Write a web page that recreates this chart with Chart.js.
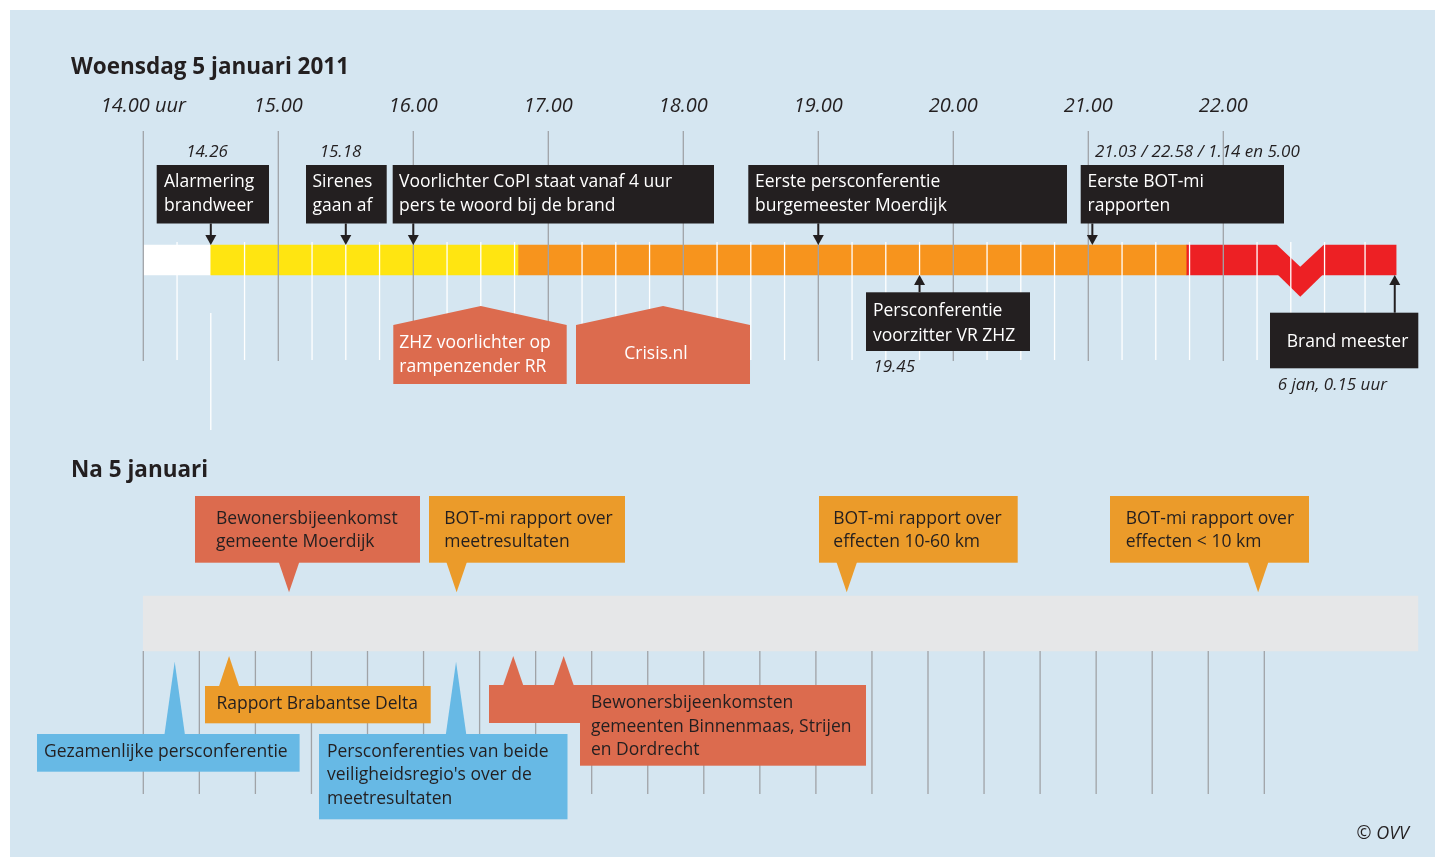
<!DOCTYPE html>
<html lang="nl"><head><meta charset="utf-8"><title>Tijdlijn Moerdijk</title>
<script src="https://cdn.jsdelivr.net/npm/chart.js@4.4.1/dist/chart.umd.min.js"></script>
<style>html,body{margin:0;padding:0;background:#fff;overflow:hidden}canvas{display:block}</style>
</head><body>
<canvas id="c" width="1435" height="857" style="width:1435px;height:857px"></canvas>
<script>
// ================= DATA =================
// Woensdag 5 januari 2011 (decimal hours)
const hourTicks   = [14, 15, 16, 17, 18, 19, 20, 21, 22];
const hourLabels  = ['14.00 uur', '15.00', '16.00', '17.00', '18.00', '19.00', '20.00', '21.00', '22.00'];
const quarterTicks = [14.25, 14.75, 15.25, 15.5, 15.75, 16.25, 16.5, 16.75, 17.25, 17.5, 17.75,
                      18.25, 18.5, 18.75, 19.25, 19.5, 19.75, 20.25, 20.5, 20.75, 21.25, 21.5, 21.75,
                      22.25, 22.5, 22.75, 23.05];
const phaseStart  = [14.0, 14.5, 16.78, 21.73];
const phaseEnd    = [14.5, 16.78, 21.73, 23.28];
const breakTime   = 22.57;           // onderbreking (nacht) in de balk
const connectorTime = 14.5;

const topAboveTimes  = [14.5, 15.5, 16.0, 19.0, 21.03];
const topAboveLabels = [['Alarmering', 'brandweer'], ['Sirenes', 'gaan af'],
                        ['Voorlichter CoPI staat vanaf 4 uur', 'pers te woord bij de brand'],
                        ['Eerste persconferentie', 'burgemeester Moerdijk'], ['Eerste BOT-mi', 'rapporten']];
const topAboveTimeTexts = ['14.26', '15.18', '', '', '21.03 / 22.58 / 1.14 en 5.00'];

const topBelowTimes  = [19.75, 23.27];
const topBelowLabels = [['Persconferentie', 'voorzitter VR ZHZ'], ['Brand meester']];
const topBelowTimeTexts = ['19.45', '6 jan, 0.15 uur'];

const mediaTimes  = [16.5, 17.85];
const mediaLabels = [['ZHZ voorlichter op', 'rampenzender RR'], ['Crisis.nl']];

// Na 5 januari (days)
const dayValues = [6, 7, 8, 9, 10, 11, 12, 13, 14, 15, 16, 17, 18, 19, 20, 21, 22, 23, 24, 25];
const dayLabels = ['6 jan', '7', '8', '9', '10', '11', '12', '13', '14', '15', '16', '17', '18', '19', '20', '21', '22', '23', '24', '25'];
const dayLines  = [6, 7, 8, 9, 10, 11, 12, 13, 14, 15, 16, 17, 18, 19, 20, 21, 22, 23, 24, 25, 26];
const bandRange = [6, 28.74];

const afterAboveDays   = [8.6, 11.59, 18.55, 25.89];
const afterAboveLabels = [['Bewonersbijeenkomst', 'gemeente Moerdijk'], ['BOT-mi rapport over', 'meetresultaten'],
                          ['BOT-mi rapport over', 'effecten 10-60 km'], ['BOT-mi rapport over', 'effecten < 10 km']];
const afterBelowDays   = [[6.56], [7.53], [11.58], [12.6, 13.5]];
const afterBelowLabels = [['Gezamenlijke persconferentie'], ['Rapport Brabantse Delta'],
                          ['Persconferenties van beide', "veiligheidsregio's over de", 'meetresultaten'],
                          ['Bewonersbijeenkomsten', 'gemeenten Binnenmaas, Strijen', 'en Dordrecht']];

// ================= STYLE / LAYOUT =================
const FONT = '"Open Sans", "Noto Sans", sans-serif';
const C = { panel: '#d5e6f1', white: '#ffffff', yellow: '#ffe511', orange: '#f7941d', red: '#ed2024',
            black: '#231f20', grid: '#a0a3a7', band: '#e6e7e8', media: '#dc6b4e',
            cOrange: '#eb9b2a', blue: '#67b9e5' };
const phaseColors = [C.white, C.yellow, C.orange, C.red];
const BAR = { y: 260, h: 30 };
const BAND = { y: 623.5, h: 55 };
const TXT = 17.5;

const topAboveBoxes = [
  { x0: 156.7, x1: 269, tx: 164 }, { x0: 306, x1: 386.7, tx: 312.5 }, { x0: 392.7, x1: 714, tx: 399 },
  { x0: 748.3, x1: 1067, tx: 755 }, { x0: 1080.7, x1: 1284, tx: 1087.5 }];
const topAboveTimePos = [{ x: 207, a: 'center' }, { x: 340.5, a: 'center' }, null, null, { x: 1095, a: 'left' }];
const topBelowBoxes = [
  { x0: 866, x1: 1030, y0: 292.3, y1: 351, tx: 873, ty: [311.5, 335.8], a: 'left' },
  { x0: 1270, x1: 1418.3, y0: 312.7, y1: 368.3, tx: 1286.7, ty: [342], a: 'left' }];
const topBelowTimePos = [{ x: 873.3, y: 367.5 }, { x: 1277.7, y: 385.5 }];
const mediaBoxes = [
  { x0: 393.3, x1: 566.7, tx: 399.3, ty: [343.5, 367], a: 'left' },
  { x0: 576, x1: 750, tx: 656, ty: [354.5], a: 'center' }];
const aboveBoxes = [
  { x0: 195, x1: 420, tx: 216, col: C.media }, { x0: 429, x1: 625, tx: 444.3, col: C.cOrange },
  { x0: 819, x1: 1017.7, tx: 833.3, col: C.cOrange }, { x0: 1110, x1: 1309, tx: 1125.7, col: C.cOrange }];
const belowBoxes = [
  { rects: [[37, 734, 299.6, 771.7]], tx: 44, ty: [752], col: C.blue, tipY: 661.7 },
  { rects: [[205, 686, 430.7, 723.3]], tx: 216.4, ty: [703.8], col: C.cOrange, tipY: 656 },
  { rects: [[319, 734, 567.5, 819.3]], tx: 327, ty: [752, 775.3, 798.6], col: C.blue, tipY: 661.7 },
  { rects: [[489, 685, 866, 723], [580, 685, 866, 765.7]], tx: 591, ty: [702.6, 726.6, 750.3], col: C.media, tipY: 656 }];

// ================= HELPERS =================
function T(ctx, s, x, y, o = {}) {
  ctx.font = `${o.style || 'normal'} ${o.weight || 400} ${o.size || TXT}px ${FONT}`;
  ctx.fillStyle = o.color || C.black;
  ctx.textAlign = o.align || 'left';
  ctx.textBaseline = 'middle';
  ctx.fillText(s, x, y);
}
function poly(ctx, pts, col) {
  ctx.beginPath(); ctx.moveTo(pts[0][0], pts[0][1]);
  for (let i = 1; i < pts.length; i++) ctx.lineTo(pts[i][0], pts[i][1]);
  ctx.closePath(); ctx.fillStyle = col; ctx.fill();
}
function arrow(ctx, x, yFrom, yTip) {
  const dir = yTip > yFrom ? 1 : -1;
  ctx.strokeStyle = C.black; ctx.lineWidth = 2;
  ctx.beginPath(); ctx.moveTo(x, yFrom); ctx.lineTo(x, yTip - dir * 8); ctx.stroke();
  poly(ctx, [[x - 5.5, yTip - dir * 10], [x + 5.5, yTip - dir * 10], [x, yTip]], C.black);
}
function segs(vals, y0, y1) {
  const out = [];
  vals.forEach(v => { out.push({ x: v, y: y0 }, { x: v, y: y1 }, { x: v, y: null }); });
  return out;
}
function noPad(s) { s.paddingLeft = 0; s.paddingRight = 0; s.paddingTop = 0; s.paddingBottom = 0; }

// ================= PLUGIN =================
const annot = {
  id: 'annot',
  beforeDraw(chart) {
    const ctx = chart.ctx;
    ctx.save();
    ctx.fillStyle = '#fff'; ctx.fillRect(0, 0, chart.width, chart.height);
    ctx.fillStyle = C.panel; ctx.fillRect(10, 10, chart.width - 10, chart.height - 10);
    ctx.restore();
  },
  afterDatasetDraw(chart, args) {
    if (args.index !== 0) return;
    const ctx = chart.ctx, xt = v => chart.scales.xTop.getPixelForValue(v), yy = v => chart.scales.y.getPixelForValue(v);
    const cx = xt(breakTime), hw = xt(breakTime + 0.172) - cx;
    const top = yy(BAR.y - BAR.h / 2), bot = yy(BAR.y + BAR.h / 2), d = 21.7;
    ctx.save();
    // cut-out on top (drawn slightly oversized so no seam stays visible)
    poly(ctx, [[cx - hw - 1.5, top - 3], [cx - hw, top], [cx, top + d], [cx + hw, top], [cx + hw + 1.5, top - 3]], C.panel);
    poly(ctx, [[cx - hw, bot - 1], [cx, bot + d], [cx + hw, bot - 1]], C.red);
    ctx.restore();
  },
  afterDatasetsDraw(chart) {
    const ctx = chart.ctx;
    const xt = v => chart.scales.xTop.getPixelForValue(v);
    const xb = v => chart.scales.xBot.getPixelForValue(v);
    const barTop = BAR.y - BAR.h / 2, barBot = BAR.y + BAR.h / 2;
    ctx.save();
    // titles
    T(ctx, 'Woensdag 5 januari 2011', 71, 68, { weight: 700, size: 22.5 });
    T(ctx, 'Na 5 januari', 71, 471, { weight: 700, size: 22.5 });

    // boxes above the bar
    topAboveTimes.forEach((t, i) => {
      const b = topAboveBoxes[i];
      ctx.fillStyle = C.black; ctx.fillRect(b.x0, 165, b.x1 - b.x0, 58.5);
      topAboveLabels[i].forEach((s, j) => T(ctx, s, b.tx, [182, 206.3][j], { color: '#fff' }));
      arrow(ctx, xt(t), 223.5, barTop);
      const p = topAboveTimePos[i];
      if (p && topAboveTimeTexts[i]) T(ctx, topAboveTimeTexts[i], p.x, 152, { style: 'italic', size: 17, align: p.a });
    });
    // boxes below the bar
    topBelowTimes.forEach((t, i) => {
      const b = topBelowBoxes[i];
      ctx.fillStyle = C.black; ctx.fillRect(b.x0, b.y0, b.x1 - b.x0, b.y1 - b.y0);
      topBelowLabels[i].forEach((s, j) => T(ctx, s, b.tx, b.ty[j], { color: '#fff', align: b.a }));
      arrow(ctx, xt(t), b.y0, barBot);
      const p = topBelowTimePos[i];
      T(ctx, topBelowTimeTexts[i], p.x, p.y, { style: 'italic', size: 17 });
    });
    // media pentagons
    mediaTimes.forEach((t, i) => {
      const b = mediaBoxes[i], ax = xt(t);
      poly(ctx, [[b.x0, 384], [b.x0, 325], [ax, 306], [b.x1, 325], [b.x1, 384]], C.media);
      mediaLabels[i].forEach((s, j) => T(ctx, s, b.tx, b.ty[j], { color: '#fff', align: b.a }));
    });

    // after 5 jan: callouts above band
    afterAboveDays.forEach((d, i) => {
      const b = aboveBoxes[i], tx = xb(d);
      ctx.fillStyle = b.col; ctx.fillRect(b.x0, 496, b.x1 - b.x0, 66.7);
      poly(ctx, [[tx - 10.3, 562], [tx + 10.3, 562], [tx, 592.3]], b.col);
      afterAboveLabels[i].forEach((s, j) => T(ctx, s, b.tx, [518.6, 542][j]));
    });
    // callouts below band
    afterBelowDays.forEach((ds, i) => {
      const b = belowBoxes[i];
      const baseY = b.rects[0][1];
      ds.forEach(d => {
        const tx = xb(d);
        poly(ctx, [[tx - 10.3, baseY + 1], [tx + 10.3, baseY + 1], [tx, b.tipY]], b.col);
      });
      ctx.fillStyle = b.col;
      b.rects.forEach(r => ctx.fillRect(r[0], r[1], r[2] - r[0], r[3] - r[1]));
      afterBelowLabels[i].forEach((s, j) => T(ctx, s, b.tx, b.ty[j]));
    });

    T(ctx, '\u00A9 OVV', 1409, 834, { style: 'italic', size: 18, align: 'right' });
    ctx.restore();
  }
};

// ================= CHART =================
const X_TOP = { min: 14 - 143.3 / 135, max: 14 + (1435 - 143.3) / 135 };
const X_BOT = { min: 6 - 143.3 / 56.05, max: 6 + (1435 - 143.3) / 56.05 };
const DAY_LABEL_SHIFT = 0.6;

const lineDs = (data, axis, color) => ({
  type: 'line', data, xAxisID: axis, yAxisID: 'y', borderColor: color, borderWidth: 1.3,
  pointRadius: 0, pointHoverRadius: 0, fill: false, tension: 0, spanGaps: false, order: 5
});

new Chart(document.getElementById('c'), {
  type: 'bar',
  data: {
    datasets: [
      { type: 'bar', label: 'fasen', indexAxis: 'y', xAxisID: 'xTop', yAxisID: 'y',
        data: phaseStart.map((s, i) => ({ x: [s, phaseEnd[i]], y: BAR.y })),
        backgroundColor: phaseColors, borderWidth: 0, barThickness: BAR.h, grouped: false, order: 20 },
      { type: 'bar', label: 'dagen', indexAxis: 'y', xAxisID: 'xBot', yAxisID: 'y',
        data: [{ x: bandRange, y: BAND.y }],
        backgroundColor: C.band, borderWidth: 0, barThickness: BAND.h, grouped: false, order: 20 },
      lineDs(segs(hourTicks, 131, 361), 'xTop', C.grid),
      lineDs(segs(quarterTicks, 242, 360), 'xTop', '#ffffff'),
      lineDs(segs([connectorTime], 313, 430), 'xTop', '#ffffff'),
      lineDs(segs(dayLines, 651, 794), 'xBot', C.grid)
    ]
  },
  options: {
    responsive: false, animation: false, devicePixelRatio: 1, events: [],
    layout: { padding: 0, autoPadding: false },
    plugins: { legend: { display: false }, tooltip: { enabled: false } },
    scales: {
      y: { type: 'linear', min: 0, max: 857, reverse: true, display: false, offset: false, grace: 0,
           grid: { offset: false }, afterFit: noPad },
      xTop: {
        type: 'linear', axis: 'x', min: X_TOP.min, max: X_TOP.max, position: { y: 96 }, offset: false, grace: 0,
        grid: { display: false, drawTicks: false, offset: false }, border: { display: false },
        afterBuildTicks: s => { s.ticks = hourTicks.map(v => ({ value: v })); },
        afterFit: noPad,
        ticks: { autoSkip: false, maxRotation: 0, minRotation: 0, padding: 0, color: C.black,
                 font: { family: FONT, size: 20, style: 'italic', lineHeight: 1 },
                 callback: v => hourLabels[hourTicks.indexOf(v)] }
      },
      xBot: {
        type: 'linear', axis: 'x', min: X_BOT.min, max: X_BOT.max, position: { y: 615 }, offset: false, grace: 0,
        grid: { display: false, drawTicks: false, offset: false }, border: { display: false },
        afterBuildTicks: s => { s.ticks = dayValues.map(v => ({ value: v + DAY_LABEL_SHIFT })); },
        afterFit: noPad,
        ticks: { autoSkip: false, maxRotation: 0, minRotation: 0, padding: 0, color: C.black,
                 font: { family: FONT, size: 21, style: 'italic', lineHeight: 1 },
                 callback: v => dayLabels[dayValues.indexOf(Math.round((v - DAY_LABEL_SHIFT) * 100) / 100)] }
      }
    }
  },
  plugins: [annot]
});
</script>
</body></html>
